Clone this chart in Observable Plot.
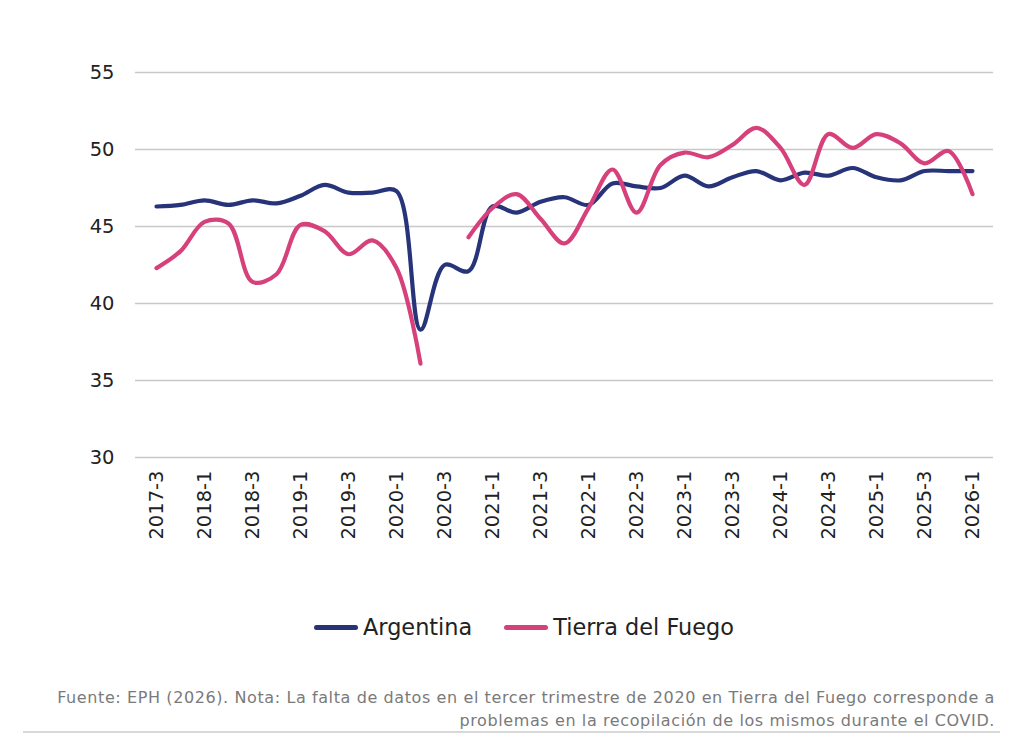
<!DOCTYPE html>
<html>
<head>
<meta charset="utf-8">
<script src="https://cdn.jsdelivr.net/npm/d3@7"></script>
<script src="https://cdn.jsdelivr.net/npm/@observablehq/plot@0.6"></script>
<style>
  html, body { margin: 0; padding: 0; background: #fff; }
  body { width: 1024px; height: 746px; position: relative; overflow: hidden; font-family: "DejaVu Sans", sans-serif; }
  #chart { position: absolute; left: 0; top: 0; }
  #legend { position: absolute; left: 12px; width: 1024px; top: 614px; display: flex; justify-content: center; align-items: center; font-size: 22.4px; color: #222; }
  .item { display: flex; align-items: center; }
  .sw { width: 44px; height: 5px; border-radius: 3px; margin-right: 5px; }
  #caption { position: absolute; right: 29px; top: 686px; text-align: right; font-size: 16px; letter-spacing: 0.6px; color: #7a7a7a; line-height: 23px; white-space: nowrap; }
  #rule { position: absolute; left: 23px; width: 977px; top: 731px; height: 1.5px; background: #d8d8d8; }
</style>
</head>
<body>
<div id="chart"></div>
<div id="legend"></div>
<div id="caption"></div>
<div id="rule"></div>
<script>
const quarters = [
  "2017-3","2017-4","2018-1","2018-2","2018-3","2018-4","2019-1","2019-2","2019-3","2019-4",
  "2020-1","2020-2","2020-3","2020-4","2021-1","2021-2","2021-3","2021-4","2022-1","2022-2",
  "2022-3","2022-4","2023-1","2023-2","2023-3","2023-4","2024-1","2024-2","2024-3","2024-4",
  "2025-1","2025-2","2025-3","2025-4","2026-1"
];
const argentina = [
  46.3, 46.4, 46.7, 46.4, 46.7, 46.5, 47.0, 47.7, 47.2, 47.2,
  47.3, 38.3, 42.5, 42.1, 46.3, 45.9, 46.6, 46.9, 46.4, 47.8,
  47.6, 47.5, 48.3, 47.6, 48.2, 48.6, 48.0, 48.5, 48.3, 48.8,
  48.2, 48.0, 48.6, 48.6, 48.6
];
const tierraDelFuego = [
  42.3, 43.4, 45.3, 45.2, 41.4, 41.9, 45.1, 44.7, 43.2, 44.1,
  42.3, 36.1, null, 44.3, 46.2, 47.1, 45.5, 43.9, 46.2, 48.7,
  45.9, 49.0, 49.8, 49.5, 50.3, 51.4, 50.1, 47.7, 51.0, 50.1,
  51.0, 50.4, 49.1, 49.9, 47.1
];
const xTicks = quarters.filter((q, i) => i % 2 === 0);
const yTicks = [30, 35, 40, 45, 50, 55];
const seriesNames = ["Argentina", "Tierra del Fuego"];
const seriesColors = ["#27347a", "#d6417b"];
const captionLines = [
  "Fuente: EPH (2026). Nota: La falta de datos en el tercer trimestre de 2020 en Tierra del Fuego corresponde a",
  "problemas en la recopilación de los mismos durante el COVID."
];

const argData = quarters.map((q, i) => ({q, v: argentina[i]}));
const tdfData = quarters.map((q, i) => ({q, v: tierraDelFuego[i]}));

const chart = Plot.plot({
  width: 1024,
  height: 557,
  marginTop: 72,
  marginBottom: 100,
  marginLeft: 135,
  marginRight: 31,
  style: {fontFamily: "DejaVu Sans", fontSize: "19.5px", color: "#222", background: "white"},
  x: {type: "point", domain: quarters, padding: 0.5},
  y: {domain: [30, 55]},
  marks: [
    Plot.ruleY(yTicks, {stroke: "#c8c8c8", strokeWidth: 1.6}),
    Plot.axisY({ticks: yTicks, tickSize: 0, tickPadding: 21, label: null, fontSize: 19.5}),
    Plot.axisX({ticks: xTicks, tickSize: 0, tickPadding: 13, tickRotate: -90, label: null, fontSize: 19.5}),
    Plot.line(argData, {x: "q", y: "v", stroke: seriesColors[0], strokeWidth: 4.2, curve: "catmull-rom"}),
    Plot.line(tdfData, {x: "q", y: "v", stroke: seriesColors[1], strokeWidth: 4.2, curve: "catmull-rom"})
  ]
});
document.getElementById("chart").appendChild(chart);

const legend = document.getElementById("legend");
seriesNames.forEach((name, i) => {
  const item = document.createElement("div");
  item.className = "item";
  if (i > 0) item.style.marginLeft = "32px";
  const sw = document.createElement("div");
  sw.className = "sw";
  sw.style.background = seriesColors[i];
  const label = document.createElement("span");
  label.textContent = name;
  item.appendChild(sw);
  item.appendChild(label);
  legend.appendChild(item);
});

const caption = document.getElementById("caption");
captionLines.forEach(t => {
  const d = document.createElement("div");
  d.textContent = t;
  caption.appendChild(d);
});
</script>
</body>
</html>
